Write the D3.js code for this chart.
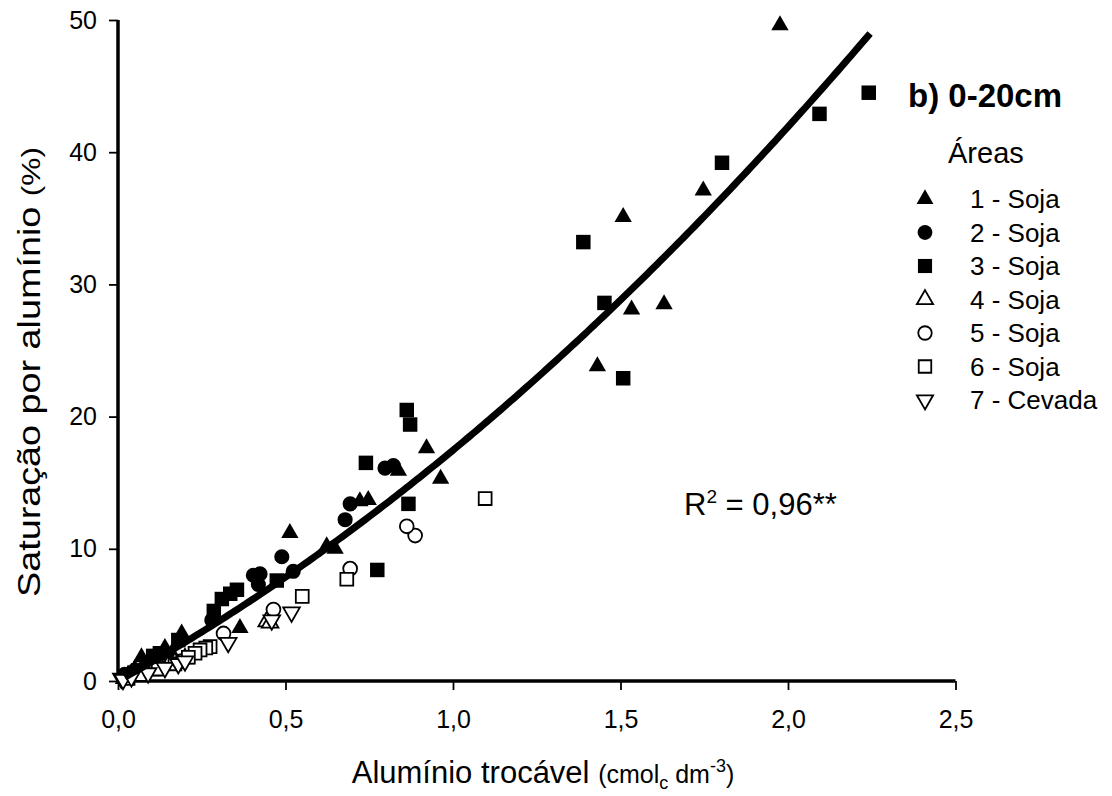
<!DOCTYPE html>
<html lang="pt">
<head>
  <meta charset="UTF-8">
  <style>
    body { margin: 0; overflow: hidden; background: #fff; }
    svg { display: block; }
    text { font-family: Arial, "Liberation Sans", sans-serif; fill: #000; }
    .tick text { font-size: 25px; }
    .legend text { font-size: 26px; }
  </style>
  <script src="https://d3js.org/d3.v7.min.js"></script>
</head>
<body>
<svg id="chart"></svg>
<script>
  // Al trocável (cmolc dm-3), saturação por Al (%)
  const area1 = [[1.976, 49.6], [1.747, 37.1], [1.508, 35.1], [1.630, 28.5], [1.533, 28.1], [1.431, 23.8],
    [0.921, 17.6], [0.963, 15.3], [0.837, 15.9], [0.722, 13.6], [0.747, 13.7], [0.648, 10.0], [0.623, 10.2],
    [0.513, 11.2], [0.364, 4.0], [0.19, 3.6], [0.14, 2.5], [0.07, 1.8], [0.10, 1.4], [0.16, 2.1],
    [0.05, 0.9], [0.12, 1.1], [0.03, 0.5]];
  const area2 = [[0.822, 16.3], [0.797, 16.1], [0.693, 13.4], [0.678, 12.2], [0.523, 8.3], [0.489, 9.4],
    [0.404, 8.0], [0.424, 8.1], [0.419, 7.3], [0.280, 4.6], [0.02, 0.5], [0.05, 0.8], [0.08, 1.0], [0.11, 1.3]];
  const area3 = [[2.241, 44.5], [2.094, 42.9], [1.803, 39.2], [1.389, 33.2], [1.452, 28.6], [1.508, 22.9],
    [0.862, 20.5], [0.872, 19.4], [0.740, 16.5], [0.867, 13.4], [0.774, 8.4], [0.474, 7.6], [0.355, 6.9],
    [0.335, 6.6], [0.310, 6.2], [0.286, 5.3], [0.18, 3.1], [0.125, 2.1], [0.105, 1.9], [0.085, 1.2], [0.06, 0.8]];
  const area4 = [[0.444, 4.5], [0.454, 4.4], [0.02, 0.2], [0.06, 0.5], [0.10, 0.8], [0.15, 1.2], [0.17, 1.4], [0.20, 1.7]];
  const area5 = [[0.887, 11.0], [0.862, 11.7], [0.693, 8.5], [0.464, 5.4], [0.315, 3.6], [0.03, 0.3],
    [0.08, 0.6], [0.13, 1.0], [0.19, 1.5]];
  const area6 = [[1.096, 13.8], [0.683, 7.7], [0.55, 6.4], [0.275, 2.6], [0.262, 2.5], [0.245, 2.35],
    [0.23, 2.1], [0.21, 1.8], [0.17, 1.3], [0.12, 0.9], [0.07, 0.5], [0.03, 0.2]];
  const area7 = [[0.518, 5.2], [0.459, 4.6], [0.329, 2.9], [0.01, 0.2], [0.015, 0.1], [0.04, 0.3],
    [0.09, 0.6], [0.14, 1.0], [0.18, 1.3], [0.20, 1.5]];

  const seriesNames = ["1 - Soja", "2 - Soja", "3 - Soja", "4 - Soja", "5 - Soja", "6 - Soja", "7 - Cevada"];
  const xTicks = [0, 0.5, 1.0, 1.5, 2.0, 2.5];
  const yTicks = [0, 10, 20, 30, 40, 50];

  // ajuste: y = b1*x + b2*x^2
  const fitB1 = 13.96, fitB2 = 3.50, fitXmin = 0.02, fitXmax = 2.245;

  const width = 1112, height = 796;
  const svg = d3.select("#chart").attr("width", width).attr("height", height);

  const x = d3.scaleLinear().domain([0, 2.5]).range([118, 955.5]);
  const y = d3.scaleLinear().domain([0, 50]).range([681, 20]);

  const fmt = d => d3.format(".1f")(d).replace(".", ",");

  // axes
  const xAxis = svg.append("g").attr("transform", "translate(0,681)")
    .call(d3.axisBottom(x).tickValues(xTicks).tickFormat(fmt).tickSize(9).tickPadding(20));
  const yAxis = svg.append("g").attr("transform", "translate(118,0)")
    .call(d3.axisLeft(y).tickValues(yTicks).tickSize(9).tickPadding(12));
  [xAxis, yAxis].forEach(g => {
    g.select(".domain").attr("stroke-width", 3.5);
    g.selectAll(".tick line").attr("stroke-width", 1.8);
    g.selectAll(".tick text").attr("font-family", null).attr("font-size", null);
  });
  xAxis.select(".domain").attr("d", `M${x(0)},0H${x(2.5)}`);
  yAxis.select(".domain").attr("d", `M0,${y(0)}V${y(50)}`);

  // markers
  const symFilled = [
    { type: d3.symbolTriangle, size: 130, fill: "#000", rot: 0 },
    { type: d3.symbolCircle, size: 180, fill: "#000", rot: 0 },
    { type: d3.symbolSquare, size: 210, fill: "#000", rot: 0 },
    { type: d3.symbolTriangle, size: 120, fill: "#fff", rot: 0 },
    { type: d3.symbolCircle, size: 150, fill: "#fff", rot: 0 },
    { type: d3.symbolSquare, size: 165, fill: "#fff", rot: 0 },
    { type: d3.symbolTriangle, size: 120, fill: "#fff", rot: 180 }
  ];
  const allSeries = [area1, area2, area3, area4, area5, area6, area7];

  const pts = svg.append("g");
  allSeries.forEach((data, i) => {
    const s = symFilled[i];
    pts.selectAll(null).data(data).join("path")
      .attr("d", d3.symbol().type(s.type).size(s.size))
      .attr("transform", d => `translate(${x(d[0])},${y(d[1])}) rotate(${s.rot})`)
      .attr("fill", s.fill)
      .attr("stroke", "#000")
      .attr("stroke-width", s.fill === "#000" ? 0 : 1.8);
  });

  // fitted curve
  const fitX = d3.range(fitXmin, fitXmax, 0.01).concat([fitXmax]);
  svg.append("path")
    .datum(fitX)
    .attr("fill", "none").attr("stroke", "#000").attr("stroke-width", 7)
    .attr("d", d3.line().x(d => x(d)).y(d => y(fitB1 * d + fitB2 * d * d)));

  // R2
  const r2 = svg.append("text").attr("x", 684).attr("y", 515).attr("font-size", 31);
  r2.append("tspan").text("R");
  r2.append("tspan").attr("font-size", 19).attr("dy", -12).text("2");
  r2.append("tspan").attr("dy", 12).text(" = 0,96**");

  // panel label & legend
  svg.append("text").attr("x", 908).attr("y", 107).attr("font-size", 33).attr("font-weight", "bold").text("b) 0-20cm");
  svg.append("text").attr("x", 948).attr("y", 163).attr("font-size", 29).text("Áreas");

  const leg = svg.append("g").attr("class", "legend");
  seriesNames.forEach((name, i) => {
    const cy = 199 + i * 33.5;
    const s = symFilled[i];
    leg.append("path")
      .attr("d", d3.symbol().type(s.type).size(s.size * 0.95))
      .attr("transform", `translate(925,${cy}) rotate(${s.rot})`)
      .attr("fill", s.fill).attr("stroke", "#000")
      .attr("stroke-width", s.fill === "#000" ? 0 : 1.8);
    leg.append("text").attr("x", 970).attr("y", cy + 9).text(name);
  });

  // axis titles
  const xt = svg.append("text").attr("x", 543).attr("y", 783).attr("text-anchor", "middle").attr("font-size", 31);
  xt.append("tspan").text("Alumínio trocável ");
  xt.append("tspan").attr("font-size", 25).text("(cmol");
  xt.append("tspan").attr("font-size", 18).attr("dy", 6).text("c");
  xt.append("tspan").attr("font-size", 25).attr("dy", -6).text(" dm");
  xt.append("tspan").attr("font-size", 18).attr("dy", -11).text("-3");
  xt.append("tspan").attr("font-size", 25).attr("dy", 11).text(")");

  const yt = svg.append("text").attr("transform", "translate(40,372) rotate(-90)")
    .attr("text-anchor", "middle").attr("font-size", 31)
    .attr("textLength", 450).attr("lengthAdjust", "spacingAndGlyphs");
  yt.append("tspan").text("Saturação por alumínio ");
  yt.append("tspan").attr("font-size", 26).text("(%)");
</script>
</body>
</html>
